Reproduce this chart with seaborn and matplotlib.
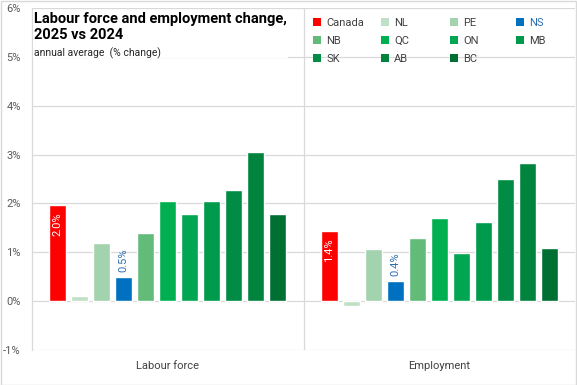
import matplotlib
matplotlib.use("Agg")
import matplotlib.pyplot as plt
import matplotlib.patches as mpatches
import seaborn as sns
import pandas as pd

categories = ["Labour force", "Employment"]
regions = ["Canada", "NL", "PE", "NS", "NB", "QC", "ON", "MB", "SK", "AB", "BC"]
labour_force = [1.96, 0.10, 1.20, 0.49, 1.39, 2.04, 1.78, 2.04, 2.27, 3.05, 1.78]
employment = [1.43, -0.10, 1.07, 0.41, 1.30, 1.71, 0.99, 1.63, 2.51, 2.82, 1.09]
colors = ["#FF0000", "#BFDFC7", "#A3D3AE", "#0070C0", "#63BB7A",
          "#00B050", "#00A651", "#009A4C", "#008C44", "#00843D", "#006F32"]
yticks = [-1, 0, 1, 2, 3, 4, 5, 6]

df = pd.DataFrame({
    "category": [categories[0]] * len(regions) + [categories[1]] * len(regions),
    "region": regions + regions,
    "value": labour_force + employment,
})

sns.set_theme(style="white")
plt.rcParams["font.family"] = ["Roboto", "DejaVu Sans"]

fig = plt.figure(figsize=(5.77, 3.85), dpi=100)
ax = fig.add_axes([32 / 577, 1 - 350 / 385, (575 - 32) / 577, (350 - 8) / 385])

grid_c = "#D9D9D9"
for t in yticks:
    ax.axhline(t, color=grid_c, lw=0.9, zorder=0)
ax.axvline(0.5, color=grid_c, lw=0.9, zorder=0)

sns.barplot(data=df, x="category", y="value", hue="region", hue_order=regions,
            palette=colors, width=0.89, gap=0.23, legend=False, ax=ax,
            saturation=1, zorder=2)

ax.set_xlim(-0.5, 1.5)
ax.set_ylim(-1, 6)
ax.set_yticks(yticks)
ax.set_yticklabels([f"{t}%" for t in yticks], fontsize=8, color="#595959")
ax.tick_params(axis="y", length=0, pad=8)
ax.tick_params(axis="x", length=0, pad=8, labelsize=8, labelcolor="#404040")
ax.set_xlabel("")
ax.set_ylabel("")
for s in ["top", "right", "bottom"]:
    ax.spines[s].set_visible(False)
ax.spines["left"].set_color(grid_c)
ax.spines["left"].set_linewidth(0.9)

# data labels
cont = ax.containers
canada = cont[regions.index("Canada")]
anns = ax.bar_label(canada, fmt="{:.1f}%", label_type="edge", padding=-5,
                    rotation=90, color="white", fontsize=8)
for a in anns:
    a.set_va("top")
ns = cont[regions.index("NS")]
ax.bar_label(ns, fmt="{:.1f}%", label_type="edge", padding=4,
             rotation=90, color="#2E6FB0", fontsize=8)

# title block
ax.add_patch(mpatches.Rectangle((0.002, 0.855), 0.47, 0.14, transform=ax.transAxes,
                                facecolor="white", edgecolor="none", zorder=3))
fig.text(34 / 577, 1 - 12 / 385, "Labour force and employment change,\n2025 vs 2024",
         fontsize=10.5, fontweight="bold", va="top", ha="left", color="black",
         linespacing=1.2)
fig.text(34 / 577, 1 - 47 / 385, "annual average  (% change)", fontsize=7.5,
         va="top", ha="left", color="#262626")

# legend: four columns of three rows, filled row by row
col_x = [313, 381, 450, 516]
for c in range(4):
    idx = [i for i in range(c, len(regions), 4)]
    handles = [mpatches.Patch(facecolor=colors[i], edgecolor="none") for i in idx]
    labels = [regions[i] for i in idx]
    leg = fig.legend(handles, labels, ncol=1, loc="upper left",
                     bbox_to_anchor=(col_x[c] / 577, 1 - 18 / 385), frameon=False,
                     fontsize=8, handlelength=0.7, handleheight=0.7,
                     handletextpad=0.5, labelspacing=0.7, borderaxespad=0,
                     borderpad=0)
    for t in leg.get_texts():
        t.set_color("#2E6FB0" if t.get_text() == "NS" else "#404040")

fig.patches.append(mpatches.Rectangle((0.001, 0.001), 0.997, 0.997,
                                      transform=fig.transFigure, fill=False,
                                      edgecolor=grid_c, lw=1))

fig.savefig("out.png", dpi=100)
